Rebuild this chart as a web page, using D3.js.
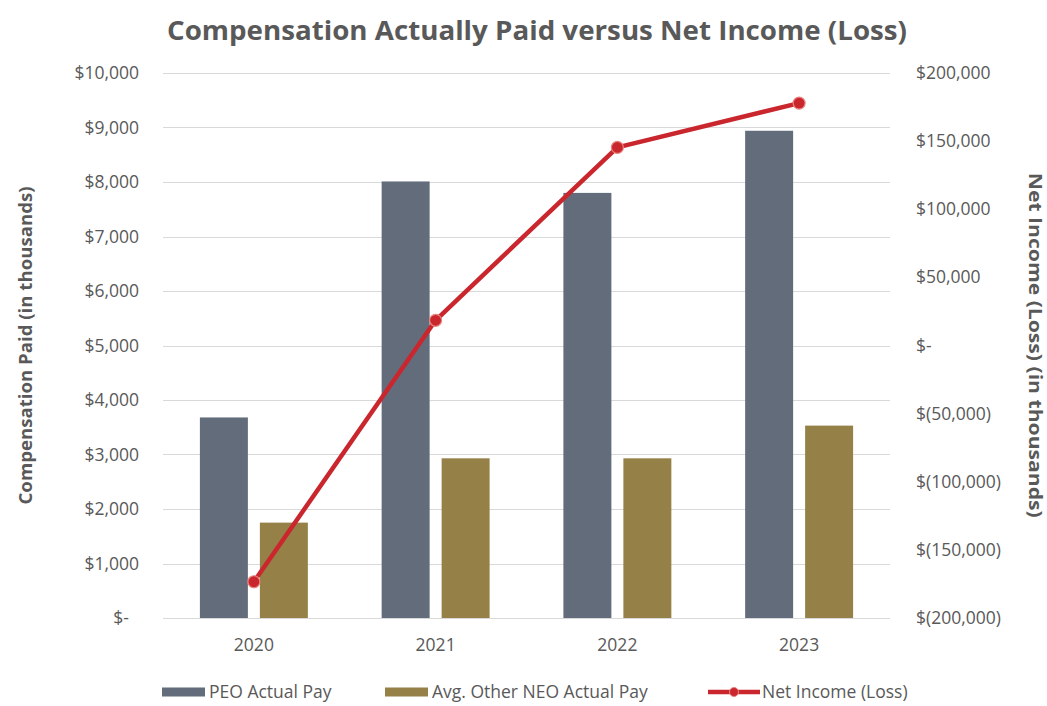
<!DOCTYPE html>
<html>
<head>
<meta charset="utf-8">
<script src="https://cdn.jsdelivr.net/npm/d3@7"></script>
<style>
  body { margin: 0; background: #fff; }
  text { font-family: "Open Sans", sans-serif; fill: #595959; }
</style>
</head>
<body>
<svg id="chart"></svg>
<script>
// values (in thousands)
const years = ["2020", "2021", "2022", "2023"];
const peoPay = [3680, 8010, 7800, 8940];
const neoPay = [1750, 2930, 2930, 3530];
const netIncome = [-173400, 18500, 145400, 177900];
const leftTicks = [0, 1000, 2000, 3000, 4000, 5000, 6000, 7000, 8000, 9000, 10000];
const rightTicks = [-200000, -150000, -100000, -50000, 0, 50000, 100000, 150000, 200000];
const seriesNames = ["PEO Actual Pay", "Avg. Other NEO Actual Pay", "Net Income (Loss)"];

const w = 1047, h = 706;
const margin = { top: 73, right: 157, bottom: 89, left: 163 };

const colors = { peo: "#636c7b", neo: "#958048", line: "#c9272d" };

const svg = d3.select("#chart").attr("width", w).attr("height", h);

const rows = years.map((y, i) => ({ year: y, peo: peoPay[i], neo: neoPay[i], net: netIncome[i] }));

const x0 = d3.scaleBand()
    .domain(years)
    .range([margin.left, w - margin.right])
    .paddingInner(0.406)
    .paddingOuter(0.203);

const x1 = d3.scaleBand()
    .domain(["peo", "neo"])
    .range([0, x0.bandwidth()])
    .paddingInner(0.2);

const yL = d3.scaleLinear()
    .domain([0, 10000])
    .range([h - margin.bottom + 1, margin.top]);

const yR = d3.scaleLinear()
    .domain([-200000, 200000])
    .range([h - margin.bottom + 1, margin.top]);

// gridlines
svg.append("g")
    .selectAll("line")
    .data(leftTicks)
    .join("line")
    .attr("x1", margin.left)
    .attr("x2", w - margin.right)
    .attr("y1", d => Math.round(yL(d)) + 0.5)
    .attr("y2", d => Math.round(yL(d)) + 0.5)
    .attr("stroke", "#d9d9d9")
    .attr("stroke-width", 1.2);

const fmtL = d => d === 0 ? "$-" : "$" + d3.format(",")(d);
const fmtR = d => d === 0 ? "$-" : (d < 0 ? "$(" + d3.format(",")(-d) + ")" : "$" + d3.format(",")(d));

// left axis
const gL = svg.append("g")
    .attr("transform", `translate(${margin.left - 24},0)`)
    .call(d3.axisLeft(yL).tickValues(leftTicks).tickSize(0).tickPadding(0).tickFormat(fmtL))
    .call(g => g.select(".domain").remove());
gL.selectAll("text")
    .style("font-size", "17.5px")
    .attr("fill", "#595959")
    .attr("dx", d => d === 0 ? -10 : 0);

// right axis
const gR = svg.append("g")
    .attr("transform", `translate(${w - margin.right + 26},0)`)
    .call(d3.axisRight(yR).tickValues(rightTicks).tickSize(0).tickPadding(0).tickFormat(fmtR))
    .call(g => g.select(".domain").remove());
gR.selectAll("text")
    .style("font-size", "17.5px")
    .attr("fill", "#595959");

// x axis labels
const gX = svg.append("g")
    .attr("transform", `translate(0,${h - margin.bottom + 1})`)
    .call(d3.axisBottom(x0).tickSize(0).tickPadding(21))
    .call(g => g.select(".domain").remove());
gX.selectAll("text")
    .style("font-size", "17.5px")
    .attr("fill", "#595959");

// bars
svg.append("g")
    .selectAll("g")
    .data(rows)
    .join("g")
    .attr("transform", d => `translate(${x0(d.year)},0)`)
    .selectAll("rect")
    .data(d => ["peo", "neo"].map(k => ({ key: k, value: d[k] })))
    .join("rect")
    .attr("x", d => x1(d.key))
    .attr("y", d => yL(d.value))
    .attr("width", x1.bandwidth())
    .attr("height", d => yL(0) - yL(d.value))
    .attr("fill", d => colors[d.key]);

// net income line
const line = d3.line()
    .x(d => x0(d.year) + x0.bandwidth() / 2)
    .y(d => yR(d.net));

svg.append("path")
    .datum(rows)
    .attr("d", line)
    .attr("fill", "none")
    .attr("stroke", colors.line)
    .attr("stroke-width", 4.5)
    .attr("stroke-linejoin", "round");

svg.append("g")
    .selectAll("circle")
    .data(rows)
    .join("circle")
    .attr("cx", d => x0(d.year) + x0.bandwidth() / 2)
    .attr("cy", d => yR(d.net))
    .attr("r", 6)
    .attr("fill", colors.line)
    .attr("stroke", "#e8847f")
    .attr("stroke-width", 1.2);

// title
svg.append("text")
    .attr("x", 537)
    .attr("y", 40)
    .attr("text-anchor", "middle")
    .attr("textLength", 740)
    .attr("lengthAdjust", "spacingAndGlyphs")
    .style("font-size", "27px")
    .style("font-weight", "bold")
    .text("Compensation Actually Paid versus Net Income (Loss)");

// axis titles
svg.append("text")
    .attr("transform", `translate(32,${(yL(0) + yL(10000)) / 2}) rotate(-90)`)
    .attr("text-anchor", "middle")
    .attr("textLength", 318)
    .attr("lengthAdjust", "spacingAndGlyphs")
    .style("font-size", "18px")
    .style("font-weight", "bold")
    .text("Compensation Paid (in thousands)");

svg.append("text")
    .attr("transform", `translate(1029,${(yR(0) + 345) / 2}) rotate(90)`)
    .attr("text-anchor", "middle")
    .attr("textLength", 345)
    .attr("lengthAdjust", "spacingAndGlyphs")
    .style("font-size", "18px")
    .style("font-weight", "bold")
    .text("Net Income (Loss) (in thousands)");

// legend
const legendY = 692;
const legend = svg.append("g");
const legendItems = [
    { name: seriesNames[0], x: 162, type: "bar", color: colors.peo },
    { name: seriesNames[1], x: 385, type: "bar", color: colors.neo },
    { name: seriesNames[2], x: 708, type: "line", color: colors.line }
];
legendItems.forEach(item => {
    if (item.type === "bar") {
        legend.append("rect")
            .attr("x", item.x)
            .attr("y", legendY - 4.5)
            .attr("width", 43)
            .attr("height", 9)
            .attr("fill", item.color);
    } else {
        legend.append("line")
            .attr("x1", item.x)
            .attr("x2", item.x + 52)
            .attr("y1", legendY)
            .attr("y2", legendY)
            .attr("stroke", item.color)
            .attr("stroke-width", 4.5);
        legend.append("circle")
            .attr("cx", item.x + 26)
            .attr("cy", legendY)
            .attr("r", 4.5)
            .attr("fill", item.color)
            .attr("stroke", "#e8847f");
    }
    legend.append("text")
        .attr("x", item.x + (item.type === "bar" ? 47 : 54))
        .attr("y", legendY)
        .attr("dy", "0.35em")
        .style("font-size", "17.5px")
        .text(item.name);
});
</script>
</body>
</html>
